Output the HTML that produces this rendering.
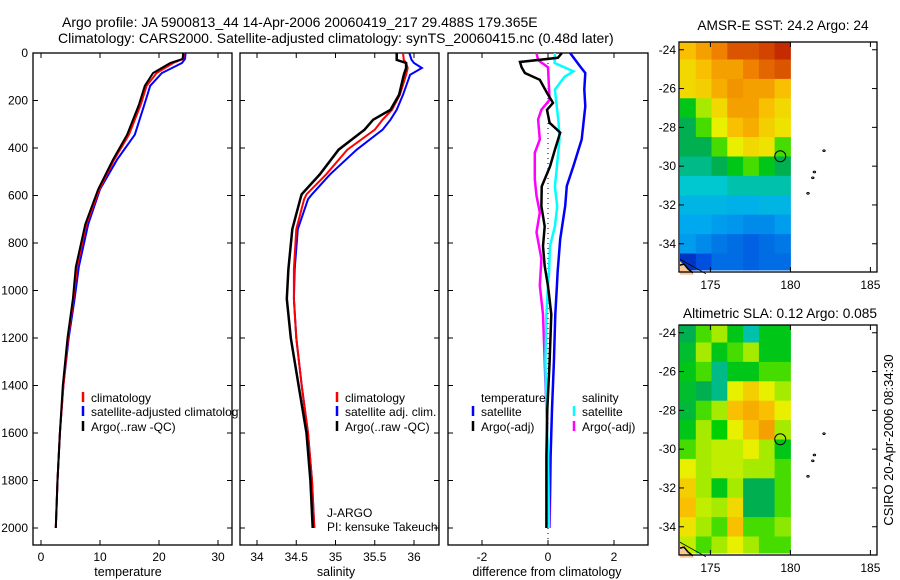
<!DOCTYPE html>
<html><head><meta charset="utf-8"><style>
html,body{margin:0;padding:0;background:#fff;}
svg{display:block;font-family:"Liberation Sans",sans-serif;font-size:12px;}
</style></head><body>
<svg id="c" width="900" height="580" viewBox="0 0 900 580">
<text x="62" y="27" style="font-size:14px">Argo profile: JA 5900813_44 14-Apr-2006 20060419_217 29.488S 179.365E</text>
<text x="58" y="43" style="font-size:14px">Climatology: CARS2000. Satellite-adjusted climatology: synTS_20060415.nc (0.48d later)</text>
<text x="783" y="30" text-anchor="middle" style="font-size:13.7px">AMSR-E SST: 24.2 Argo: 24</text>
<text x="780" y="318" text-anchor="middle" style="font-size:13.7px">Altimetric SLA: 0.12 Argo: 0.085</text>
<text transform="translate(893,440) rotate(-90)" text-anchor="middle" style="font-size:13px">CSIRO 20-Apr-2006 08:34:30</text>
<text x="327" y="517">J-ARGO</text>
<text x="327" y="531">PI: kensuke Takeuchi</text>
<g id="g"></g>
</svg>
<script>
// ---- temperature panel data ----
const depthT = [0,25,42,84,138,218,344,449,574,721,901,1035,1200,1400,1600,1800,2000];
const argoT  = [24.1,24.0,21.9,19.0,17.6,16.6,14.6,12.2,9.7,7.5,5.9,5.4,4.5,3.7,3.2,2.8,2.5];
const climT  = [24.2,24.1,22.4,19.6,17.9,16.9,14.9,12.4,9.9,7.7,6.1,5.5,4.6,3.8,3.2,2.8,2.5];
const satT   = [24.5,24.4,23.9,20.5,18.5,17.5,15.9,12.9,10.0,8.0,6.4,5.7,4.7,3.8,3.2,2.8,2.5];
// ---- salinity panel data ----
const depthS = [0,29,42,63,92,176,239,281,323,407,511,595,616,742,910,1035,1200,1400,1600,1800,2000];
const argoS  = [35.78,35.78,35.9,35.9,35.87,35.81,35.7,35.48,35.37,35.04,34.8,34.57,34.55,34.45,34.4,34.38,34.43,34.53,34.63,34.68,34.71];
const satS   = [35.94,35.97,36.0,36.1,35.95,35.86,35.78,35.7,35.6,35.27,34.93,34.7,34.65,34.52,34.48,34.47,34.5,34.57,34.65,34.7,34.73];
const climS  = [35.86,35.87,35.9,35.92,35.9,35.82,35.72,35.6,35.5,35.15,34.88,34.63,34.6,34.5,34.47,34.47,34.5,34.57,34.65,34.7,34.73];
// ---- difference panel data ----
const depthArgoTd = [0,20,38,60,84,113,168,210,239,294,335,407,478,562,646,730,813,897,981,1100,1300,1500,1700,1900,2000];
const argoTd = [0.42,0.3,-0.85,-0.8,-0.7,-0.25,-0.03,0.15,-0.03,0.05,0.37,0.21,0.06,-0.19,-0.2,-0.1,-0.15,-0.1,0.0,0.1,0.05,-0.02,-0.05,-0.05,-0.05];
const depthArgoSd = [0,30,60,197,239,280,364,420,532,601,671,755,867,979,1100,1300,1500,1700,2000];
const argoSd = [-0.35,-0.3,0.0,0.05,-0.2,-0.3,-0.25,-0.4,-0.4,-0.35,-0.25,-0.35,-0.2,-0.25,-0.15,-0.1,-0.05,0.0,0.05];
const depthSatSd = [0,42,77,100,154,294,364,504,562,646,730,813,925,981,1100,1300,1500,1700,2000];
const satSd = [0.21,0.2,0.77,0.5,0.21,0.32,0.35,0.25,0.21,0.28,0.21,0.06,0.03,0.0,-0.05,-0.08,-0.05,0.0,0.03];
const depthSatTd = [0,56,84,154,224,364,476,560,644,784,923,981,1100,1300,1500,1700,2000];
const satTd = [0.67,0.97,1.13,1.1,1.13,1.02,0.77,0.57,0.52,0.37,0.29,0.27,0.22,0.18,0.12,0.08,0.05];
// ---- ticks ----
const depthTicks = [0,200,400,600,800,1000,1200,1400,1600,1800,2000];
const tempTicks = [0,10,20,30];
const salTicks = [34,34.5,35,35.5,36];
const salTickLabels = ["34","34.5","35","35.5","36"];
const diffTicks = [-2,0,2];
const latTicks = [-24,-26,-28,-30,-32,-34];
const lonTicks = [175,180,185];
// ---- map grids (colour index 0..1), rows lat 24..35S, cols lon 174..180E ----
const sstGrid = [
[0.75,0.8,0.85,0.9,0.9,0.92,0.95],
[0.7,0.75,0.8,0.8,0.85,0.88,0.9],
[0.7,0.72,0.78,0.82,0.8,0.8,0.75],
[0.5,0.6,0.7,0.8,0.8,0.75,0.7],
[0.45,0.55,0.65,0.75,0.78,0.72,0.68],
[0.45,0.45,0.55,0.65,0.7,0.68,0.55],
[0.42,0.42,0.45,0.5,0.55,0.5,0.45],
[0.38,0.38,0.38,0.4,0.4,0.4,0.4],
[0.33,0.33,0.33,0.32,0.32,0.33,0.33],
[0.3,0.3,0.28,0.27,0.25,0.25,0.28],
[0.28,0.25,0.22,0.2,0.18,0.2,0.22],
[0.1,0.15,0.2,0.2,0.18,0.2,0.2]];
const slaGrid = [
[0.45,0.55,0.6,0.5,0.4,0.5,0.5],
[0.48,0.6,0.5,0.55,0.6,0.5,0.5],
[0.5,0.55,0.42,0.5,0.5,0.55,0.55],
[0.48,0.45,0.42,0.65,0.72,0.65,0.6],
[0.47,0.55,0.6,0.75,0.78,0.75,0.65],
[0.5,0.6,0.52,0.65,0.75,0.8,0.6],
[0.55,0.6,0.62,0.62,0.65,0.6,0.5],
[0.65,0.6,0.62,0.62,0.6,0.6,0.55],
[0.72,0.6,0.5,0.6,0.45,0.45,0.55],
[0.75,0.62,0.6,0.7,0.45,0.45,0.55],
[0.68,0.6,0.55,0.75,0.55,0.55,0.58],
[0.62,0.55,0.6,0.65,0.6,0.55,0.55]];
const gridLat0 = 23.6, gridLon0 = 173.1;
const argoLon = 179.365, argoLat = 29.488;

const NS="http://www.w3.org/2000/svg";
const G=document.getElementById('g');
function el(tag,attrs,parent){const e=document.createElementNS(NS,tag);for(const k in attrs)e.setAttribute(k,attrs[k]);(parent||G).appendChild(e);return e;}
const yD = d => 53 + d*0.2375;
const P1={x0:33,x1:232,fx:v=>41+5.9*v};
const P2={x0:240,x1:439,fx:v=>257+78.5*(v-34)};
const P3={x0:448,x1:648,fx:v=>548+33*v};
const TOP=53,BOT=545;

function panel(P,name,xt,xl,label,labelX,showY){
  const g=el('g',{});
  
  
  const r=el('rect',{x:P.x0,y:TOP,width:P.x1-P.x0,height:BOT-TOP,fill:'none',stroke:'#000','stroke-width':1.3},g);
  
  
  depthTicks.forEach(d=>{
    el('line',{x1:P.x0,x2:P.x0+5,y1:yD(d),y2:yD(d),stroke:'#000'},g);
    el('line',{x1:P.x1-5,x2:P.x1,y1:yD(d),y2:yD(d),stroke:'#000'},g);
    if(showY){const t=el('text',{x:28,y:yD(d)+4,'text-anchor':'end'},g);t.textContent=d;
      
      }
  });
  xt.forEach((v,i)=>{
    const x=P.fx(v);
    el('line',{x1:x,x2:x,y1:TOP,y2:TOP+5,stroke:'#000'},g);
    el('line',{x1:x,x2:x,y1:BOT-5,y2:BOT,stroke:'#000'},g);
    const t=el('text',{x:x,y:561,'text-anchor':'middle'},g);t.textContent=xl[i];
    
    
  });
  const t=el('text',{x:labelX,y:576,'text-anchor':'middle','style':'font-size:12.5px'},g);t.textContent=label;
  
  
  return g;
}
function series(P,depths,vals,color,name,w){
  let d='';
  vals.forEach((v,i)=>{d+=(i?'L':'M')+P.fx(v).toFixed(1)+','+yD(depths[i]).toFixed(1);});
  const p=el('path',{d:d,fill:'none',stroke:color,'stroke-width':w||2,'stroke-linejoin':'miter'});
  
  
}
function legendItem(x,y,color,text,name,clip){
  const g=el('g',clip?{'clip-path':clip}:{});
  
  
  if(color)el('line',{x1:x,x2:x,y1:y-10,y2:y,stroke:color,'stroke-width':2.5},g);
  const t=el('text',{x:x+8,y:y},g);t.textContent=text;
}

const defs=el('defs',{});
const cp=el('clipPath',{id:'clip1'},defs);el('rect',{x:0,y:0,width:239,height:580},cp);

panel(P1,'temperature-panel',tempTicks,tempTicks.map(String),'temperature',128,true);
panel(P2,'salinity-panel',salTicks,salTickLabels,'salinity',336,false);
panel(P3,'difference-panel',diffTicks,diffTicks.map(String),'difference from climatology',547,false);

series(P1,depthT,satT,'#0000ff','temp-satellite-line');
series(P1,depthT,climT,'#ff0000','temp-climatology-line');
series(P1,depthT,argoT,'#000','temp-argo-line');
series(P2,depthS,satS,'#0000ff','sal-satellite-line');
series(P2,depthS,climS,'#ff0000','sal-climatology-line');
series(P2,depthS,argoS,'#000','sal-argo-line',2.5);
const z=el('line',{x1:P3.fx(0),x2:P3.fx(0),y1:TOP,y2:BOT,stroke:'#000','stroke-dasharray':'1,4'});


series(P3,depthSatTd,satTd,'#0000ff','diff-temp-satellite-line',2.5);
series(P3,depthArgoSd,argoSd,'#ff00ff','diff-sal-argo-line',2.5);
series(P3,depthSatSd,satSd,'#00ffff','diff-sal-satellite-line',2.5);
series(P3,depthArgoTd,argoTd,'#000','diff-temp-argo-line',2.5);

legendItem(83,402,'#ff0000','climatology','legend-climatology');
legendItem(83,416,'#0000ff','satellite-adjusted climatology','legend-satellite-adjusted','url(#clip1)');
legendItem(83,431,'#000','Argo(..raw -QC)','legend-argo');
legendItem(337,402,'#ff0000','climatology','legend2-climatology');
legendItem(337,416,'#0000ff','satellite adj. clim.','legend2-satellite');
legendItem(337,431,'#000','Argo(..raw -QC)','legend2-argo');
legendItem(473,402,null,'temperature','legend3-temperature-header');
legendItem(473,416,'#0000ff','satellite','legend3-temp-satellite');
legendItem(473,431,'#000','Argo(-adj)','legend3-temp-argo');
legendItem(574,402,null,'salinity','legend3-salinity-header');
legendItem(574,416,'#00ffff','satellite','legend3-sal-satellite');
legendItem(574,431,'#ff00ff','Argo(-adj)','legend3-sal-argo');

// colormap
const stops=[[0,[0,0,140]],[0.15,[0,80,224]],[0.3,[0,168,240]],[0.38,[0,200,208]],[0.45,[0,176,80]],[0.52,[0,208,0]],[0.58,[140,232,0]],[0.65,[232,240,0]],[0.75,[248,192,0]],[0.85,[240,128,0]],[1,[176,0,0]]];
function cmap(v){for(let i=1;i<stops.length;i++){if(v<=stops[i][0]){const a=stops[i-1],b=stops[i],t=(v-a[0])/(b[0]-a[0]);return 'rgb('+a[1].map((c,k)=>Math.round(c+(b[1][k]-c)*t)).join(',')+')';}}return 'rgb(176,0,0)';}

function map(top,grid,name,cellName){
  const g=el('g',{});
  
  
  const fx=lon=>680+16*(lon-173.1), fy=lat=>top+19.4*(lat-23.6);
  const nc=grid[0].length, cw=(180-gridLon0)/nc;
  grid.forEach((row,r)=>row.forEach((v,c)=>{
    const lat0=r===0?gridLat0:24+r-0.5, lat1=r===grid.length-1?35.35:24+r+0.5;
    const lon0=gridLon0+c*cw, lon1=gridLon0+(c+1)*cw;
    const rc=el('rect',{x:fx(lon0).toFixed(1),y:fy(lat0).toFixed(1),width:(fx(lon1)-fx(lon0)+0.5).toFixed(1),height:(fy(lat1)-fy(lat0)+0.5).toFixed(1),fill:cmap(v)},g);
    
    
  }));
  // coast
  el('path',{d:`M680,${fy(34.9)} L694,${fy(35.6)} L680,${fy(35.6)}Z`,fill:'#f8c898'},g);
  el('path',{d:`M680,${fy(34.8)} L706,${fy(35.55)}`,stroke:'#000',fill:'none','stroke-width':0.8},g);
  el('path',{d:`M680,${fy(35.1)} L684,${fy(35.05)} L688,${fy(35.3)} L693,${fy(35.5)}`,stroke:'#000',fill:'none','stroke-width':1.5},g);
  // islands
  [[182.1,29.2],[181.5,30.3],[181.4,30.6],[181.1,31.4]].forEach(p=>{
    el('ellipse',{cx:fx(p[0]),cy:fy(p[1]),rx:1.2,ry:0.8,fill:'none',stroke:'#000'},g);
  });
  const ci=el('circle',{cx:fx(argoLon),cy:fy(argoLat),r:5.5,fill:'none',stroke:'#000','stroke-width':1},g);
  
  
  el('rect',{x:679,y:top,width:198,height:230,fill:'none',stroke:'#000','stroke-width':1.3},g);
  latTicks.forEach(l=>{const y=fy(-l);
    el('line',{x1:679,x2:684,y1:y,y2:y,stroke:'#000'},g);
    el('line',{x1:872,x2:877,y1:y,y2:y,stroke:'#000'},g);
    const t=el('text',{x:676,y:y+4,'text-anchor':'end'},g);t.textContent=l;
    
    });
  lonTicks.forEach(l=>{const x=fx(l);
    el('line',{x1:x,x2:x,y1:top,y2:top+5,stroke:'#000'},g);
    el('line',{x1:x,x2:x,y1:top+225,y2:top+230,stroke:'#000'},g);
    const t=el('text',{x:x,y:top+247,'text-anchor':'middle'},g);t.textContent=l;
    
    });
}
map(42,sstGrid,'sst-map','sst-cell');
map(325,slaGrid,'sla-map','sla-cell');
</script>
</body></html>
